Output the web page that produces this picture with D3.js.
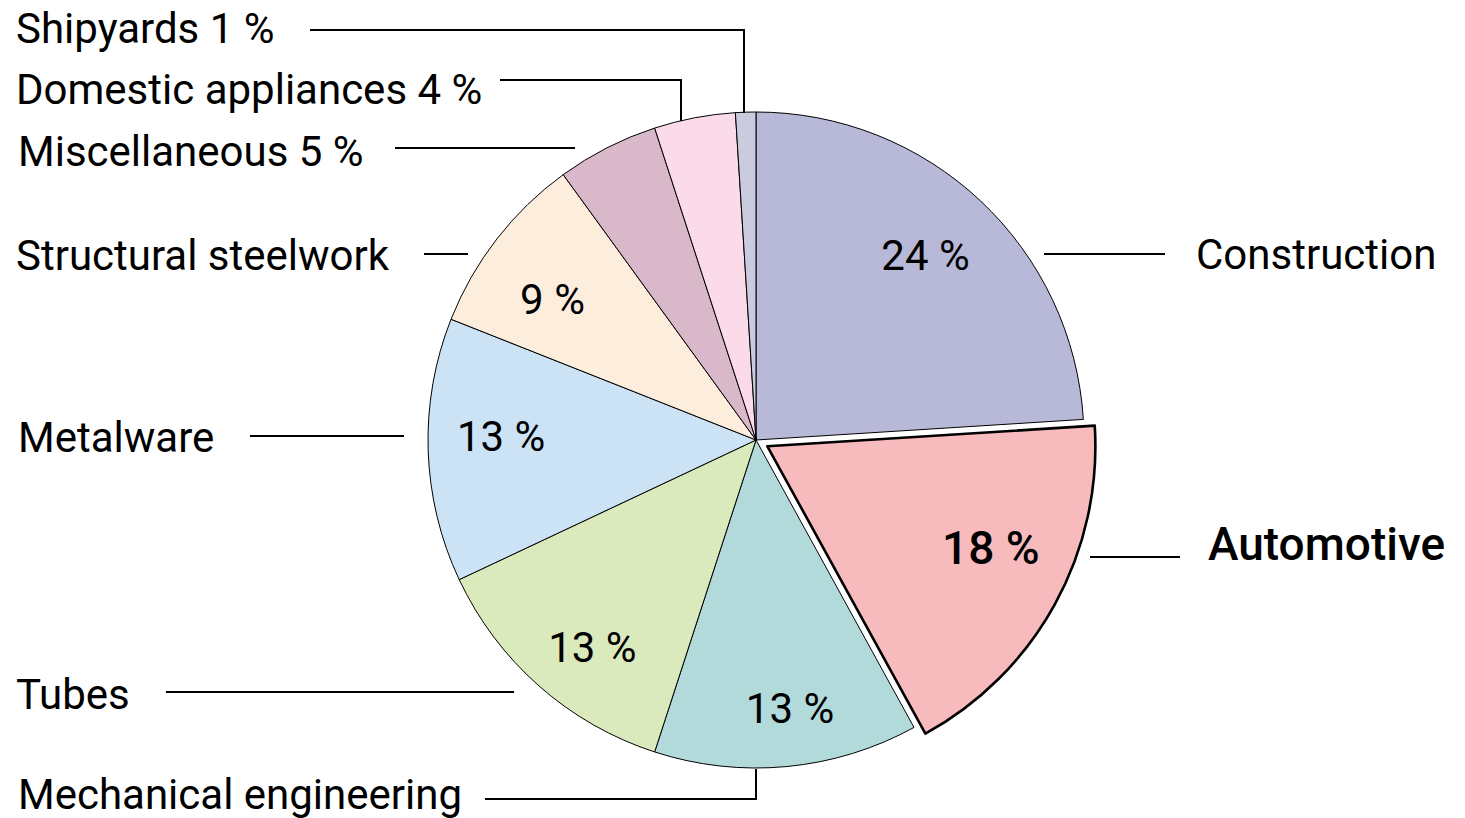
<!DOCTYPE html>
<html lang="en">
<head>
    <meta charset="UTF-8">
    <title>Steel consumption by sector</title>
    <script src="https://d3js.org/d3.v7.min.js"></script>
    <style>
        body { margin: 0; background: #fff; }
        text { font-family: Roboto, "Open Sans", sans-serif; fill: #000; }
    </style>
</head>
<body>
    <script>
        // sectors, clockwise from 12 o'clock
        var sectors = ["Construction", "Automotive", "Mechanical engineering", "Tubes", "Metalware",
                       "Structural steelwork", "Miscellaneous", "Domestic appliances", "Shipyards"];
        var shares = [24, 18, 13, 13, 13, 9, 5, 4, 1];
        var colors = ["#b8b9d9", "#f7bbbd", "#b3dadb", "#dbeabd", "#cce2f5",
                      "#fdeddd", "#d9b8ca", "#fbdaea", "#cacbdf"];
        // outside labels (text shown next to the leader lines)
        var outerLabels = ["Construction", "Automotive", "Mechanical engineering", "Tubes", "Metalware",
                           "Structural steelwork", "Miscellaneous 5 %", "Domestic appliances 4 %", "Shipyards 1 %"];
        var highlighted = "Automotive";

        var w = 1465, h = 818;
        var cx = 756, cy = 440, r = 328;
        var explode = 13;

        // leader line layout: text anchor + polyline points, nudge for the inner % label
        var layout = {
            "Construction":           { tx: 1196, ty: 254, pts: [[1044, 254], [1165, 254]], nudge: [-5, 1] },
            "Automotive":             { tx: 1208, ty: 544, pts: [[1090, 557], [1180, 557]], nudge: [0, -21] },
            "Mechanical engineering": { tx: 18,   ty: 794, pts: [[485, 799], [756, 799], [756, 769]], nudge: [10, 14] },
            "Tubes":                  { tx: 16,   ty: 694, pts: [[166, 692], [514, 692]], nudge: [5, 16] },
            "Metalware":              { tx: 18,   ty: 437, pts: [[250, 436], [404, 436]], nudge: [0, -12] },
            "Structural steelwork":   { tx: 16,   ty: 255, pts: [[424, 254], [468, 254]], nudge: [-2, 16] },
            "Miscellaneous":          { tx: 18,   ty: 151, pts: [[395, 148], [575, 148]] },
            "Domestic appliances":    { tx: 16,   ty: 89,  pts: [[500, 80], [681, 80], [681, 121]] },
            "Shipyards":              { tx: 16,   ty: 28,  pts: [[310, 30], [744, 30], [744, 113]] }
        };
        var showInside = function(d) { return d.data.value >= 9; };

        var data = sectors.map(function(s, i) { return { name: s, value: shares[i], color: colors[i], label: outerLabels[i] }; });

        var svg = d3.select("body").append("svg")
            .attr("width", w).attr("height", h);

        var pie = d3.pie().sort(null).value(function(d) { return d.value; });
        var arc = d3.arc().innerRadius(0).outerRadius(r);
        var labelArc = d3.arc().innerRadius(255).outerRadius(255);
        var arcs = pie(data);

        function offset(d) {
            if (d.data.name !== highlighted) return [0, 0];
            var a = (d.startAngle + d.endAngle) / 2;
            return [Math.sin(a) * explode, -Math.cos(a) * explode];
        }

        var g = svg.append("g").attr("transform", "translate(" + cx + "," + cy + ")");

        g.selectAll("path.slice")
            .data(arcs)
            .join("path")
            .attr("class", "slice")
            .attr("d", arc)
            .attr("transform", function(d) { return "translate(" + offset(d) + ")"; })
            .attr("fill", function(d) { return d.data.color; })
            .attr("stroke", "#000")
            .attr("stroke-linejoin", "round")
            .attr("stroke-width", function(d) { return d.data.name === highlighted ? 2.6 : 1; });

        // raise the highlighted slice so its border stays on top
        g.selectAll("path.slice").filter(function(d) { return d.data.name === highlighted; }).raise();

        // percentages inside the larger slices
        g.selectAll("text.pct")
            .data(arcs.filter(showInside))
            .join("text")
            .attr("class", "pct")
            .attr("transform", function(d) {
                var c = labelArc.centroid(d), o = offset(d), n = layout[d.data.name].nudge;
                return "translate(" + (c[0] + o[0] + n[0]) + "," + (c[1] + o[1] + n[1]) + ")";
            })
            .attr("text-anchor", "middle")
            .attr("dy", "0.35em")
            .style("font-size", function(d) { return d.data.name === highlighted ? "46px" : "42px"; })
            .style("font-weight", function(d) { return d.data.name === highlighted ? 500 : 400; })
            .text(function(d) { return d.data.value + " %"; });

        // leader lines
        var line = d3.line();
        svg.selectAll("path.leader")
            .data(data)
            .join("path")
            .attr("class", "leader")
            .attr("d", function(d) { return line(layout[d.name].pts); })
            .attr("fill", "none")
            .attr("stroke", "#000")
            .attr("stroke-width", 2);

        // outside labels
        svg.selectAll("text.name")
            .data(data)
            .join("text")
            .attr("class", "name")
            .attr("x", function(d) { return layout[d.name].tx; })
            .attr("y", function(d) { return layout[d.name].ty; })
            .attr("dy", "0.35em")
            .style("font-size", function(d) { return d.name === highlighted ? "46px" : "42px"; })
            .style("font-weight", function(d) { return d.name === highlighted ? 500 : 400; })
            .text(function(d) { return d.label; });
    </script>
</body>
</html>
